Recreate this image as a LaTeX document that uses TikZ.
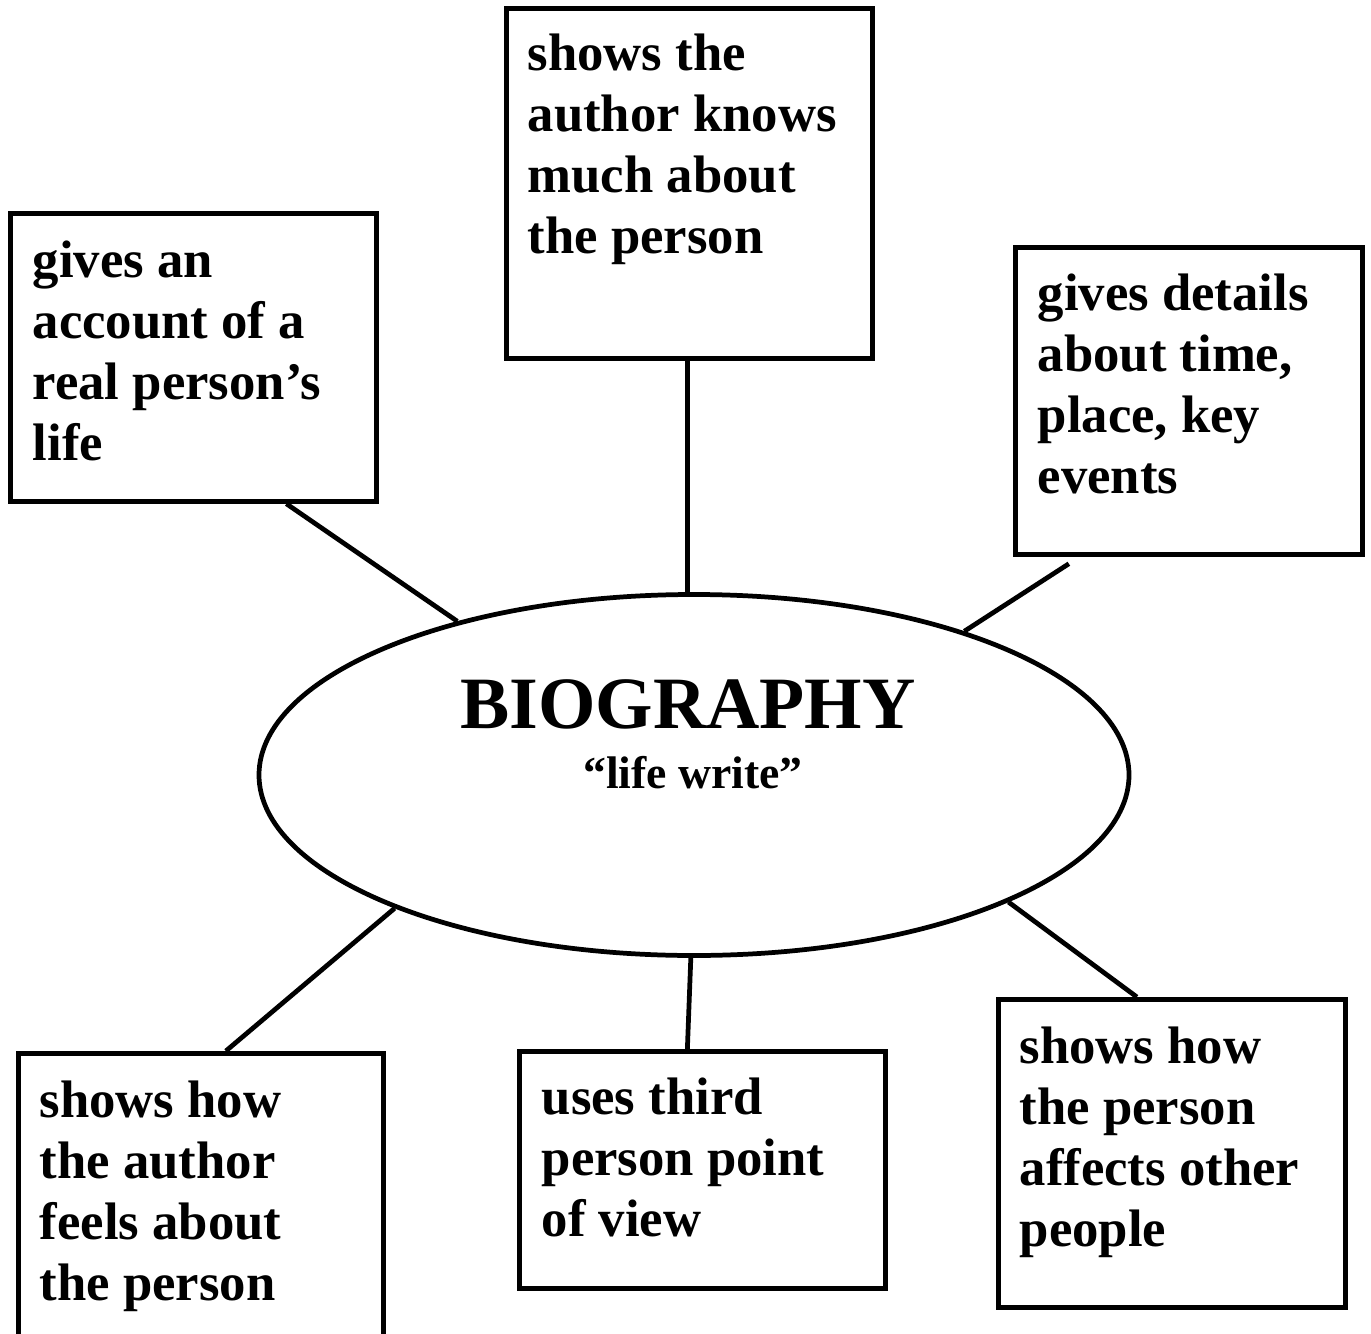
\documentclass[tikz,border=0pt]{standalone}
\usepackage{fontspec}
\setmainfont{Liberation Serif}
\usetikzlibrary{shapes.geometric, positioning}

\begin{document}
\begin{tikzpicture}[
  box/.style={draw, line width=1.35pt, anchor=north west, inner sep=0pt},
  txt/.style={anchor=north west, inner sep=0pt, align=left,
              font=\bfseries\fontsize{15}{17.4}\selectfont},
  hub/.style={draw, ellipse, line width=1.35pt, inner sep=0pt},
  link/.style={line width=1.35pt}
]
\useasboundingbox (0,0) rectangle (13.71,-13.34);

\node[hub, minimum width=8.70cm, minimum height=3.61cm] (bio) at (6.94,-7.75) {};
\node[font=\bfseries\fontsize{21}{25}\selectfont, anchor=base, inner sep=0pt] (title) at (6.88,-7.28) {BIOGRAPHY};
\node[font=\bfseries\fontsize{13}{15}\selectfont, anchor=base, inner sep=0pt] (subtitle) at (6.93,-7.88) {“life write”};

\node[box, minimum width=3.66cm, minimum height=3.50cm] (know) at (5.04,-0.06) {};
\node[box, minimum width=3.66cm, minimum height=2.88cm] (life) at (0.08,-2.11) {};
\node[box, minimum width=3.47cm, minimum height=3.07cm] (details) at (10.13,-2.45) {};
\node[box, minimum width=3.65cm, minimum height=2.85cm] (feels) at (0.16,-10.51) {};
\node[box, minimum width=3.66cm, minimum height=2.37cm] (third) at (5.17,-10.49) {};
\node[box, minimum width=3.47cm, minimum height=3.08cm] (affects) at (9.96,-9.97) {};

\node[txt] (knowtext) at ([xshift=2.3mm,yshift=-2.7mm]know.north west) {shows the\\author knows\\much about\\the person};
\node[txt] (lifetext) at ([xshift=2.4mm,yshift=-2.9mm]life.north west) {gives an\\account of a\\real person’s\\life};
\node[txt] (detailstext) at ([xshift=2.4mm,yshift=-2.8mm]details.north west) {gives details\\about time,\\place, key\\events};
\node[txt] (feelstext) at ([xshift=2.3mm,yshift=-2.9mm]feels.north west) {shows how\\the author\\feels about\\the person};
\node[txt] (thirdtext) at ([xshift=2.4mm,yshift=-2.8mm]third.north west) {uses third\\person point\\of view};
\node[txt] (affectstext) at ([xshift=2.3mm,yshift=-2.9mm]affects.north west) {shows how\\the person\\affects other\\people};

\draw[link] ([xshift=-0.2mm]know.south) -- ([xshift=-0.2mm]know.south |- bio.north);
\draw[link] ([xshift=9.3mm]life.south) -- (bio.147);
\draw[link] ([xshift=-12mm,yshift=-0.7mm]details.south) -- (bio.28);
\draw[link] (bio.204) -- ([xshift=2.5mm]feels.north);
\draw[link] (bio.269) -- ([xshift=-1.5mm]third.north);
\draw[link] (bio.338) -- ([xshift=-3.5mm]affects.north);

\end{tikzpicture}
\end{document}
